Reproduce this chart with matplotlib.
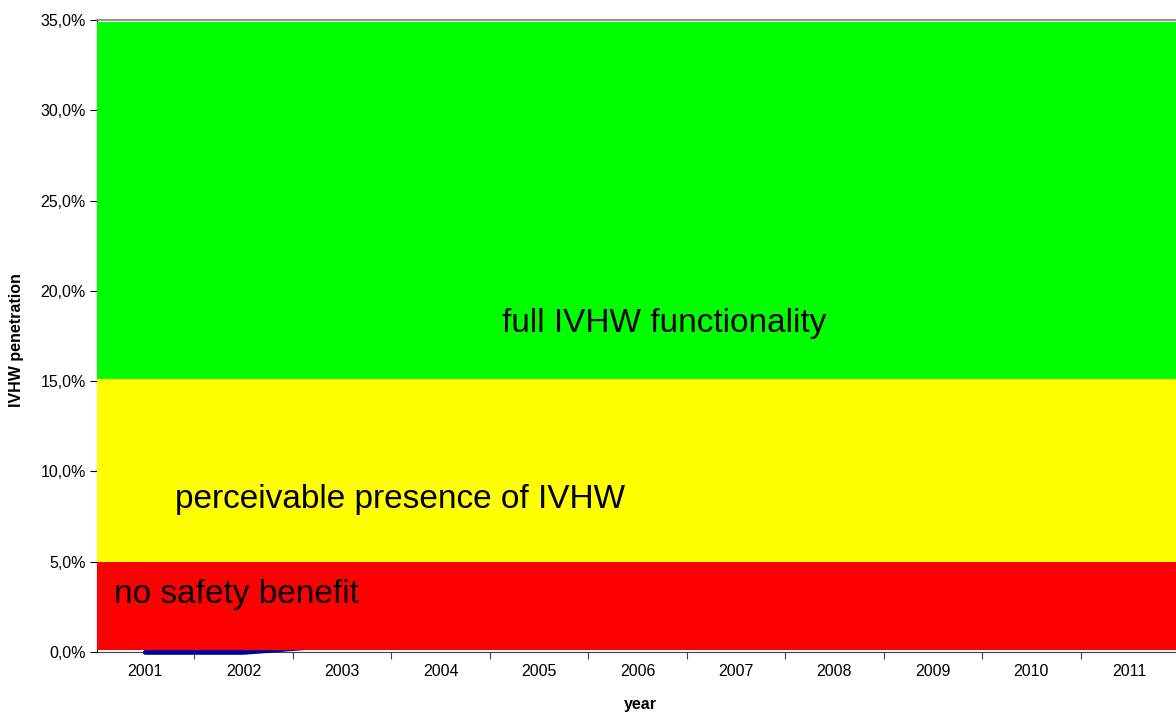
import numpy as np
import matplotlib as mpl
mpl.use('Agg')
import matplotlib.pyplot as plt
from matplotlib.ticker import FixedLocator, FuncFormatter

plt.rcParams['font.family'] = ['Liberation Sans', 'DejaVu Sans']

# data
years = [2001, 2002, 2003, 2004, 2005, 2006, 2007, 2008, 2009, 2010, 2011]
pen_years = [2001, 2002, 2003]
penetration = [-0.0002, -0.0002, 0.004]  # IVHW penetration (fraction)

band_names = ["no safety benefit", "perceivable presence of IVHW", "full IVHW functionality"]
band_low = [0.001, 0.050, 0.151]
band_high = [0.050, 0.151, 0.349]
band_colors = ["#ff0000", "#ffff00", "#00ff00"]
label_x = [2000.68, 2001.30, 2004.62]
label_y = [0.0320, 0.0845, 0.182]

fig = plt.figure(figsize=(11.76, 7.13), dpi=100)
ax = fig.add_axes([97 / 1176, 1 - 652 / 713, 1 - 97 / 1176, (652 - 20) / 713])

xmin, xmax = 2000.51, 2011.47
ax.set_xlim(xmin, xmax)
ax.set_ylim(0, 0.35)

# blue penetration line (sits at zero, mostly hidden)
ax.plot(pen_years, penetration, color="#000099", lw=3.5, solid_capstyle='round', zorder=3, clip_on=False)

# bands
for lo, hi, c in zip(band_low, band_high, band_colors):
    ax.fill_between([xmin, xmax], [lo, lo], [hi, hi], color=c, lw=0, zorder=4)

for name, x, y in zip(band_names, label_x, label_y):
    ax.text(x, y, name, fontsize=24, va='center', ha='left', zorder=5)

# axes styling
ax.spines['right'].set_visible(False)
ax.spines['top'].set_color('#808080')
ax.spines['top'].set_linewidth(1.2)
ax.spines['left'].set_color('#000000')
ax.spines['bottom'].set_color('#404040')
ax.spines['bottom'].set_zorder(2)

ax.yaxis.set_major_locator(FixedLocator(np.arange(0, 0.351, 0.05)))
ax.yaxis.set_major_formatter(FuncFormatter(lambda v, p: f"{v * 100:.1f}%".replace('.', ',')))

ax.xaxis.set_major_locator(FixedLocator([y - 0.5 for y in years]))
ax.xaxis.set_major_formatter(FuncFormatter(lambda v, p: ''))
ax.xaxis.set_minor_locator(FixedLocator(years))
ax.xaxis.set_minor_formatter(FuncFormatter(lambda v, p: str(int(round(v)))))
ax.tick_params(axis='x', which='major', length=5, color='#404040')
ax.tick_params(axis='x', which='minor', length=0, pad=9, labelsize=11.5)
ax.tick_params(axis='y', length=5, labelsize=11.5, pad=3)

ax.set_xlabel("year", fontsize=11.5, fontweight='bold')
ax.set_ylabel("IVHW penetration", fontsize=11.5, fontweight='bold')
ax.xaxis.set_label_coords(640 / 1176, 705 / 713, transform=fig.transFigure)
ax.xaxis.label.set_va('center')
ax.xaxis.set_label_coords(640 / 1176, 1 - 705 / 713, transform=fig.transFigure)
ax.yaxis.set_label_coords(17 / 1176, 1 - 340 / 713, transform=fig.transFigure)
ax.yaxis.label.set_va('center')

fig.savefig("out.png", dpi=100)
plt.close(fig)
